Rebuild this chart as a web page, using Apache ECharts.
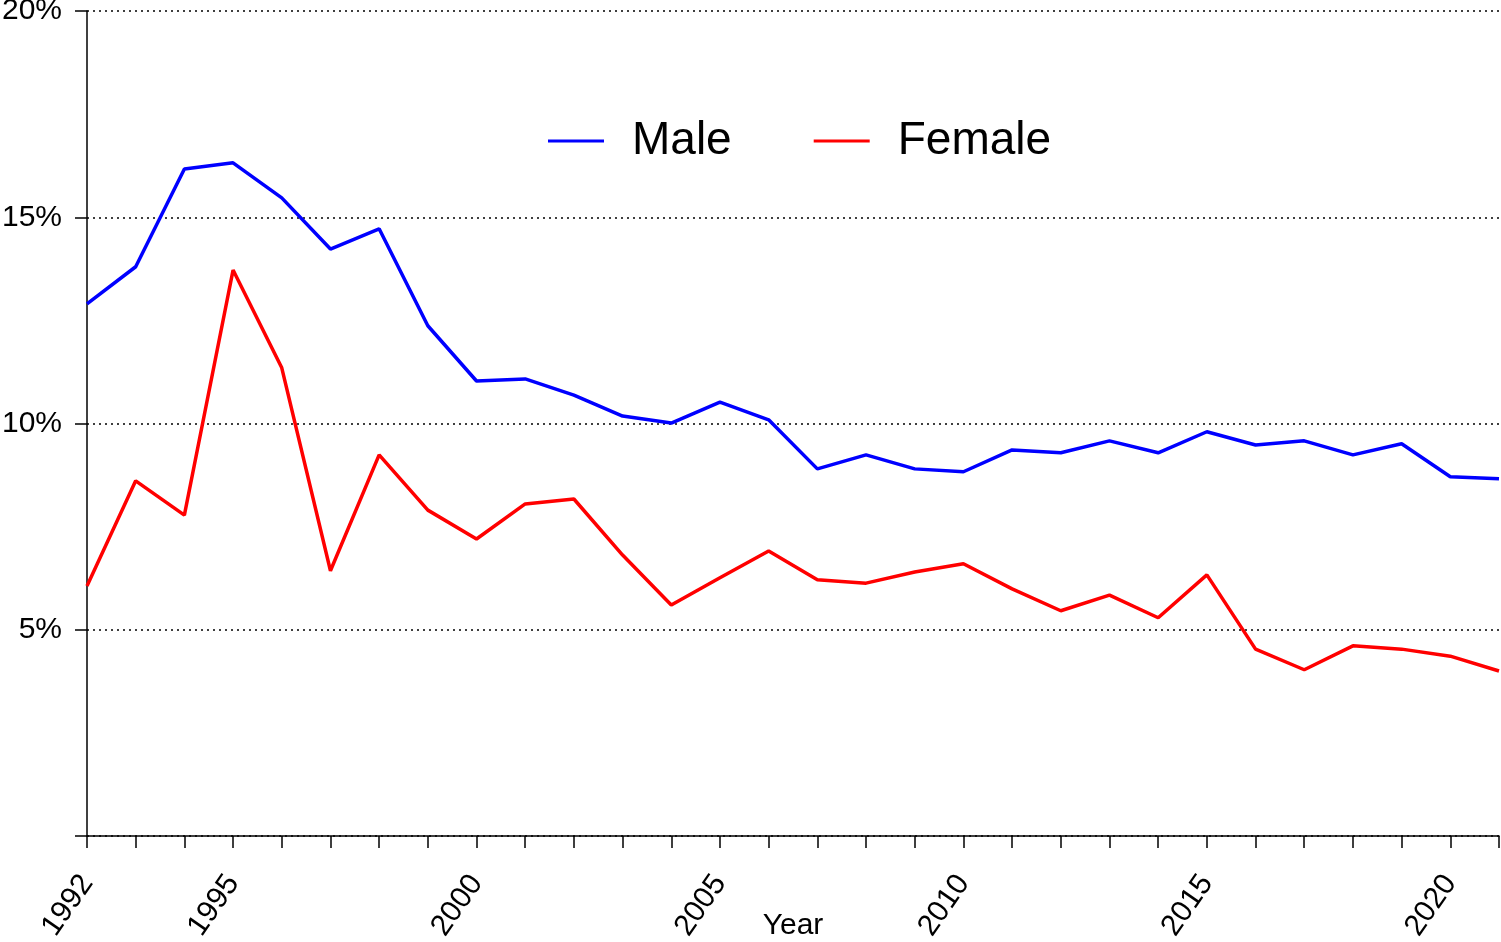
<!DOCTYPE html>
<html>
<head>
<meta charset="utf-8">
<script src="https://cdn.jsdelivr.net/npm/echarts@6/dist/echarts.min.js"></script>
<style>
html,body{margin:0;padding:0;background:#fff;overflow:hidden;}
#chart{width:1501px;height:942px;}
</style>
</head>
<body>
<div id="chart"></div>
<script>
const years = [1992,1993,1994,1995,1996,1997,1998,1999,2000,2001,2002,2003,2004,2005,2006,2007,2008,2009,2010,2011,2012,2013,2014,2015,2016,2017,2018,2019,2020,2021];
const male = [12.9,13.8,16.17,16.32,15.47,14.23,14.72,12.37,11.03,11.08,10.69,10.18,10.01,10.52,10.09,8.90,9.24,8.90,8.83,9.36,9.29,9.58,9.29,9.80,9.48,9.58,9.24,9.51,8.71,8.66];
const female = [6.06,8.61,7.78,13.72,11.35,6.43,9.24,7.90,7.20,8.05,8.17,6.81,5.60,6.26,6.91,6.21,6.13,6.40,6.60,5.99,5.46,5.84,5.29,6.33,4.53,4.03,4.61,4.53,4.36,4.00];
const yearLabels = [1992,1995,2000,2005,2010,2015,2020];
const yTicks = [5,10,15,20];

const chart = echarts.init(document.getElementById('chart'), null, {renderer:'canvas'});
const font = 'Liberation Sans, Arial, sans-serif';
chart.setOption({
  animation:false,
  backgroundColor:'#fff',
  grid:{left:87,right:2,top:11,bottom:106,containLabel:false,outerBoundsMode:'none'},
  legend:{
    left:543, top:113,
    itemWidth:56, itemHeight:3, itemGap:82,
    icon:'rect',
    textStyle:{fontFamily:font,fontSize:46,color:'#000',padding:[0,0,0,23]},
    data:[{name:'Male',itemStyle:{color:'#0000ff'}},{name:'Female',itemStyle:{color:'#ff0000'}}]
  },
  xAxis:{
    type:'value', min:1992, max:2021, interval:1,
    name:'Year', nameLocation:'middle', nameGap:75, nameMoveOverlap:false,
    nameTextStyle:{fontFamily:font,fontSize:30,color:'#000'},
    axisLine:{show:true,onZero:false,lineStyle:{color:'#000',width:1.5}},
    axisTick:{show:true,length:12,lineStyle:{color:'#000',width:1.5}},
    splitLine:{show:false},
    axisLabel:{
      rotate:55, margin:42, fontFamily:font, fontSize:30, color:'#000',
      showMinLabel:true, showMaxLabel:true, hideOverlap:false,
      formatter:function(v){return yearLabels.indexOf(v)>=0 ? String(v) : '';}
    }
  },
  yAxis:{
    type:'value', min:0, max:20, interval:5,
    axisLine:{show:true,lineStyle:{color:'#000',width:1.5}},
    axisTick:{show:true,length:12,lineStyle:{color:'#000',width:1.5}},
    splitLine:{show:true,lineStyle:{color:'#000',width:1.5,type:[2,4]}},
    axisLabel:{
      margin:25, fontFamily:font, fontSize:30, color:'#000', padding:[6,0,0,0],
      formatter:function(v){return yTicks.indexOf(v)>=0 ? v+'%' : '';}
    }
  },
  series:[
    {name:'Male',type:'line',data:years.map((y,i)=>[y,male[i]]),symbol:'none',
     lineStyle:{color:'#0000ff',width:3.5},itemStyle:{color:'#0000ff'}},
    {name:'Female',type:'line',data:years.map((y,i)=>[y,female[i]]),symbol:'none',
     lineStyle:{color:'#ff0000',width:3.5},itemStyle:{color:'#ff0000'}}
  ]
});
</script>
</body>
</html>
